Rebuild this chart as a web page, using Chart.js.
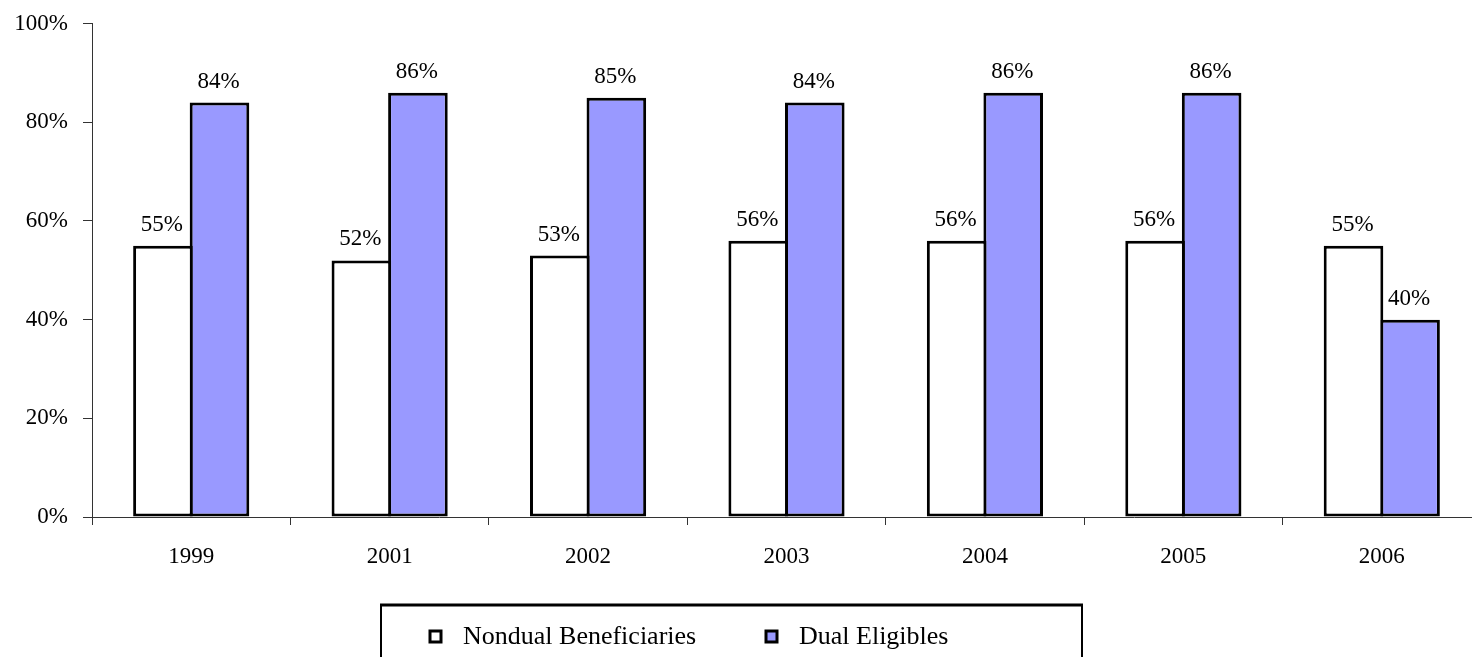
<!DOCTYPE html>
<html lang="en">
<head>
    <meta charset="UTF-8">
    <title>Nondual Beneficiaries vs Dual Eligibles</title>
    <script src="https://cdn.jsdelivr.net/npm/chart.js"></script>
    <style>
        html, body {
            margin: 0;
            padding: 0;
            background: #ffffff;
            overflow: hidden;
        }
        .wrap {
            width: 1472px;
            height: 657px;
            overflow: hidden;
        }
    </style>
</head>
<body>
    <div class="wrap">
        <canvas id="chart" width="1486" height="657"></canvas>
    </div>

    <script>
        const years = ['1999', '2001', '2002', '2003', '2004', '2005', '2006'];
        const nondual = [55, 52, 53, 56, 56, 56, 55];
        const dual = [84, 86, 85, 84, 86, 86, 40];
        const seriesNames = ['Nondual Beneficiaries', 'Dual Eligibles'];
        const yTicks = [0, 20, 40, 60, 80, 100];

        const serif = '"Liberation Serif", "Times New Roman", serif';

        // value labels above each bar
        const barLabels = {
            id: 'barLabels',
            afterDatasetsDraw(chart) {
                const ctx = chart.ctx;
                ctx.save();
                ctx.font = '23px ' + serif;
                ctx.fillStyle = '#000';
                ctx.textAlign = 'center';
                ctx.textBaseline = 'alphabetic';
                chart.data.datasets.forEach((ds, i) => {
                    chart.getDatasetMeta(i).data.forEach((bar, j) => {
                        ctx.fillText(ds.data[j] + '%', bar.x - 1, bar.y - 15);
                    });
                });
                ctx.restore();
            }
        };

        // boxed legend below the axis
        const boxLegend = {
            id: 'boxLegend',
            afterDraw(chart) {
                const ctx = chart.ctx;
                const area = chart.chartArea;
                const top = area.bottom + 88;
                const left = 381;
                const right = 1082;
                ctx.save();
                ctx.strokeStyle = '#000';
                ctx.lineWidth = 2;
                ctx.strokeRect(left, top, right - left, 80);
                ctx.lineWidth = 3;
                ctx.beginPath();
                ctx.moveTo(left - 1, top);
                ctx.lineTo(right + 1, top);
                ctx.stroke();

                ctx.font = '26px ' + serif;
                ctx.textBaseline = 'middle';
                ctx.textAlign = 'left';
                const itemX = [430, 766];
                const cy = top + 32;
                chart.data.datasets.forEach((ds, i) => {
                    const x = itemX[i];
                    ctx.fillStyle = ds.backgroundColor;
                    ctx.fillRect(x, cy - 6, 11, 11);
                    ctx.lineWidth = 3;
                    ctx.strokeStyle = '#000';
                    ctx.strokeRect(x, cy - 6, 11, 11);
                    ctx.fillStyle = '#000';
                    ctx.fillText(ds.label, x + 33, cy);
                });
                ctx.restore();
            }
        };

        const ctx = document.getElementById('chart').getContext('2d');
        new Chart(ctx, {
            type: 'bar',
            data: {
                labels: years,
                datasets: [
                    {
                        label: seriesNames[0],
                        data: nondual,
                        backgroundColor: '#ffffff',
                        borderColor: '#000000',
                        borderWidth: 3,
                        borderSkipped: false
                    },
                    {
                        label: seriesNames[1],
                        data: dual,
                        backgroundColor: '#9999ff',
                        borderColor: '#000000',
                        borderWidth: 3,
                        borderSkipped: false
                    }
                ]
            },
            options: {
                responsive: false,
                animation: false,
                events: [],
                layout: {
                    padding: { top: 22, right: 5, bottom: 90, left: 0 }
                },
                datasets: {
                    bar: {
                        // bars overlap slightly so the pair shares one border
                        categoryPercentage: 0.57,
                        barPercentage: 1.054
                    }
                },
                plugins: {
                    legend: { display: false },
                    tooltip: { enabled: false }
                },
                scales: {
                    x: {
                        grid: {
                            display: true,
                            drawOnChartArea: false,
                            drawTicks: true,
                            tickLength: 8,
                            color: '#333'
                        },
                        border: { display: true, color: '#333', width: 1 },
                        ticks: {
                            color: '#000',
                            font: { family: serif, size: 23 },
                            padding: 18,
                            maxRotation: 0
                        },
                        afterFit(scale) { scale.height = 50; }
                    },
                    y: {
                        min: 0,
                        max: 100,
                        afterBuildTicks(scale) {
                            scale.ticks = yTicks.map(v => ({ value: v }));
                        },
                        grid: {
                            display: true,
                            drawOnChartArea: false,
                            drawTicks: true,
                            tickLength: 9,
                            color: '#333'
                        },
                        border: { display: true, color: '#333', width: 1 },
                        ticks: {
                            color: '#000',
                            font: { family: serif, size: 23, lineHeight: 0.75 },
                            padding: 15,
                            callback: v => v + '%'
                        },
                        afterFit(scale) { scale.width = 92; }
                    }
                }
            },
            plugins: [barLabels, boxLegend]
        });
    </script>
</body>
</html>
